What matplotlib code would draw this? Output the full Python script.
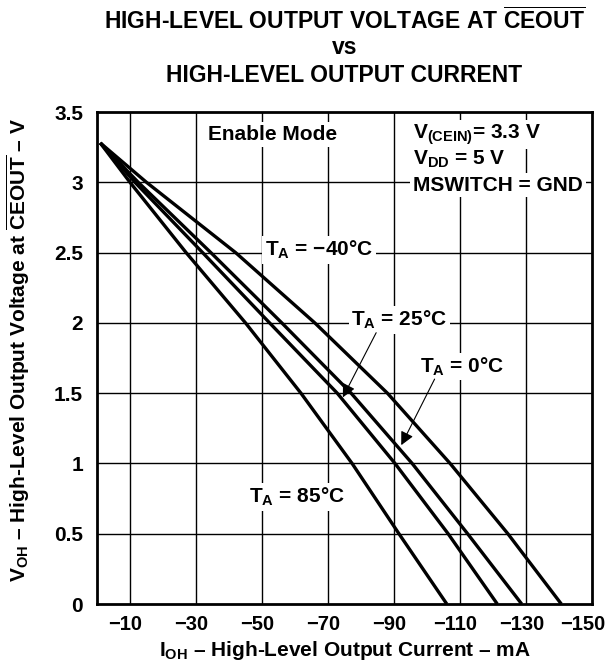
import matplotlib
matplotlib.use("Agg")
import matplotlib.pyplot as plt
from matplotlib.transforms import ScaledTranslation

plt.rcParams['font.family'] = ['Liberation Sans', 'DejaVu Sans']
plt.rcParams['font.weight'] = 'bold'
plt.rcParams['mathtext.fontset'] = 'custom'
plt.rcParams['mathtext.rm'] = 'Liberation Sans:bold'
plt.rcParams['mathtext.bf'] = 'Liberation Sans:bold'
plt.rcParams['mathtext.it'] = 'Liberation Sans:bold'
plt.rcParams['mathtext.sf'] = 'Liberation Sans:bold'

# Data (I_OH in mA, V_OH in V)
v_oh = [3.28, 3.0, 2.5, 2.0, 1.5, 1.0, 0.5, 0.0]
i_85 = [-1.0, -10.0, -27.0, -45.0, -61.8, -77.3, -91.5, -106.0]
i_25 = [-1.0, -11.5, -32.0, -52.3, -72.8, -90.3, -106.4, -121.3]
i_0 = [-1.0, -12.5, -34.5, -56.0, -77.0, -95.5, -112.3, -128.7]
i_m40 = [-1.0, -15.0, -42.0, -66.0, -88.0, -107.0, -124.5, -140.7]

x_ticks = [-10, -30, -50, -70, -90, -110, -130, -150]
x_tick_labels = ['\u221210', '\u221230', '\u221250', '\u221270', '\u221290', '\u2212110', '\u2212130', '\u2212150']
y_ticks = [0, 0.5, 1, 1.5, 2, 2.5, 3, 3.5]
y_tick_labels = ['0', '0.5', '1', '1.5', '2', '2.5', '3', '3.5']

FS = 15
fig = plt.figure(figsize=(6.08, 6.68), dpi=100)
ax = fig.add_axes([0.1595, 0.0958, 0.8142, 0.7365])

# grid lines
for xv in x_ticks[:-1]:
    ax.axvline(xv, color='black', lw=1.0, zorder=1)
for yv in y_ticks[1:-1]:
    ax.axhline(yv, color='black', lw=1.0, zorder=1)

for ii in (i_85, i_25, i_0, i_m40):
    ax.plot(ii, v_oh, color='black', lw=2.4, zorder=3, solid_capstyle='butt',
            solid_joinstyle='round')

ax.set_xlim(0, -150)
ax.set_ylim(0, 3.5)
ax.set_xticks(x_ticks)
ax.set_xticklabels(x_tick_labels)
ax.set_yticks(y_ticks)
ax.set_yticklabels(y_tick_labels)
ax.tick_params(length=0, labelsize=FS)
ax.tick_params(axis='x', labelsize=14.5, pad=8)
ax.tick_params(axis='y', pad=10)
for lab in ax.get_xticklabels() + ax.get_yticklabels():
    lab.set_fontweight('bold')
xlabs = ax.get_xticklabels()
for k, lab in enumerate(xlabs):
    dx = -0.09 if k == len(xlabs) - 1 else -0.045
    lab.set_transform(lab.get_transform() + ScaledTranslation(dx, 0, fig.dpi_scale_trans))
for s in ax.spines.values():
    s.set_linewidth(2.0)
    s.set_zorder(5)

box = dict(facecolor='white', edgecolor='none', pad=2)
ax.text(-53.3, 3.34, 'Enable Mode', fontsize=FS, ha='center', va='center', bbox=box, zorder=4)
ax.text(-95.8, 3.34, r'V$_{\mathrm{(CEIN)}}$= 3.3 V', fontsize=FS, ha='left', va='center', bbox=box, zorder=4)
ax.text(-95.8, 3.16, r'V$_{\mathrm{DD}}$ = 5 V', fontsize=FS, ha='left', va='center', bbox=box, zorder=4)
ax.text(-95.8, 2.98, 'MSWITCH = GND', fontsize=FS, ha='left', va='center', bbox=box, zorder=4)

ax.text(-67.3, 2.52, r'T$_{\mathrm{A}}$ = ' + '\u221240\u00b0C',
        fontsize=FS, ha='center', va='center', bbox=box, zorder=4)
ax.text(-91.6, 2.02, r'T$_{\mathrm{A}}$ = ' + '25\u00b0C', fontsize=FS, ha='center', va='center', bbox=box, zorder=4)
ax.text(-110.5, 1.69, r'T$_{\mathrm{A}}$ = ' + '0\u00b0C', fontsize=FS, ha='center', va='center', bbox=box, zorder=4)
ax.text(-60.5, 0.76, r'T$_{\mathrm{A}}$ = ' + '85\u00b0C', fontsize=FS, ha='center', va='center', bbox=box, zorder=4)

arrowprops = dict(arrowstyle='-|>', color='black', lw=0.8, mutation_scale=20, shrinkA=0, shrinkB=0)
ax.annotate('', xy=(-74.5, 1.47), xytext=(-84.6, 1.93), arrowprops=arrowprops, zorder=6)
ax.annotate('', xy=(-92.2, 1.13), xytext=(-102.3, 1.60), arrowprops=arrowprops, zorder=6)

# titles
cx = 344.5 / 608
TS = 16.5
fig.text(cx, 1 - 21 / 668, r'HIGH-LEVEL OUTPUT VOLTAGE AT $\overline{\mathrm{CEOUT}}$', fontsize=TS,
         ha='center', va='center')
fig.text(cx, 1 - 47 / 668, 'vs', fontsize=TS, ha='center', va='center')
fig.text(cx, 1 - 75 / 668, 'HIGH-LEVEL OUTPUT CURRENT', fontsize=TS, ha='center', va='center')

fig.text(345 / 608, 1 - 651 / 668, r'I$_{\mathrm{OH}}$ ' + '\u2013 High-Level Output Current \u2013 mA',
         fontsize=FS, ha='center', va='center')
fig.text(18 / 608, 1 - 350 / 668,
         r'V$_{\mathrm{OH}}$ ' + '\u2013' + r' High-Level Output Voltage at $\overline{\mathrm{CEOUT}}$ ' + '\u2013 V',
         fontsize=FS, ha='center', va='center', rotation=90)

fig.savefig('out.png', dpi=100)
